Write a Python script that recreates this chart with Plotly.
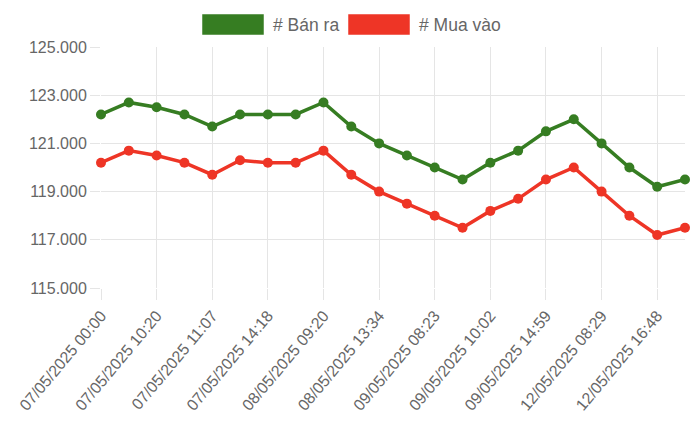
import plotly.graph_objects as go

# Gia vang - Ban ra / Mua vao (nghin dong)
tick_labels = [
    "07/05/2025 00:00", "07/05/2025 10:20", "07/05/2025 11:07",
    "07/05/2025 14:18", "08/05/2025 09:20", "08/05/2025 13:34",
    "09/05/2025 08:23", "09/05/2025 10:02", "09/05/2025 14:59",
    "12/05/2025 08:29", "12/05/2025 16:48",
]
point_index = list(range(22))
ban_ra = [122200, 122700, 122500, 122200, 121700, 122200, 122200, 122200,
          122700, 121700, 121000, 120500, 120000, 119500, 120200, 120700,
          121500, 122000, 121000, 120000, 119200, 119500]
mua_vao = [120200, 120700, 120500, 120200, 119700, 120300, 120200, 120200,
           120700, 119700, 119000, 118500, 118000, 117500, 118200, 118700,
           119500, 120000, 119000, 118000, 117200, 117500]
series_names = ["# Bán ra", "# Mua vào"]

green = '#367d22'
red = '#ee3526'
text_color = '#666666'
grid_color = '#e5e5e5'
font_family = 'Liberation Sans, Arial, sans-serif'

# the page body has an 8px margin, so the figure is a bit smaller
OFF = 8
W, H = 700 - OFF, 431 - OFF
L, R, T, B = 101 - OFF, 15, 47 - OFF, 143


def px_x(px):
    # page pixel -> paper x
    return (px - OFF - L) / (W - L - R)


def px_y(py):
    # page pixel -> paper y
    return (H - B - (py - OFF)) / (H - T - B)


fig = go.Figure()
for name, values, color in [(series_names[0], ban_ra, green), (series_names[1], mua_vao, red)]:
    fig.add_trace(go.Scatter(
        x=point_index,
        y=values,
        name=name,
        mode='lines+markers',
        line=dict(color=color, width=3.5),
        marker=dict(color=color, size=10),
        cliponaxis=False,
        showlegend=False,
    ))

# custom legend boxes like the original
shapes = []
annotations = []
legend_items = [(202, 264, 271, series_names[0], green), (348, 410, 417, series_names[1], red)]
for x0, x1, tx, name, color in legend_items:
    shapes.append(dict(
        type='rect', xref='paper', yref='paper',
        x0=px_x(x0), x1=px_x(x1), y0=px_y(35), y1=px_y(14),
        fillcolor=color, line=dict(color='rgba(255,255,255,0.5)', width=1),
    ))
    annotations.append(dict(
        xref='paper', yref='paper', x=px_x(tx), y=px_y(24.5),
        xanchor='left', yanchor='middle', text=name, showarrow=False,
        font=dict(color=text_color, size=17.5, family=font_family),
    ))

fig.update_layout(
    width=W,
    height=H,
    paper_bgcolor='white',
    plot_bgcolor='white',
    separators=',.',
    font=dict(family=font_family, color=text_color, size=16),
    margin=dict(l=L, r=R, t=T, b=B, pad=0),
    shapes=shapes,
    annotations=annotations,
    xaxis=dict(
        range=[0, 21],
        tickvals=point_index[::2],
        ticktext=tick_labels,
        tickangle=-50,
        automargin=False,
        showgrid=True,
        gridcolor=grid_color,
        gridwidth=1,
        ticks='outside',
        ticklen=11,
        tickcolor=grid_color,
        zeroline=False,
        showline=False,
    ),
    yaxis=dict(
        range=[115000, 125000],
        tick0=115000,
        dtick=2000,
        tickformat=',.0f',
        automargin=False,
        showgrid=True,
        gridcolor=grid_color,
        gridwidth=1,
        ticks='outside',
        ticklen=10,
        tickcolor=grid_color,
        zeroline=False,
        showline=False,
    ),
)

fig.write_html("out.html")
